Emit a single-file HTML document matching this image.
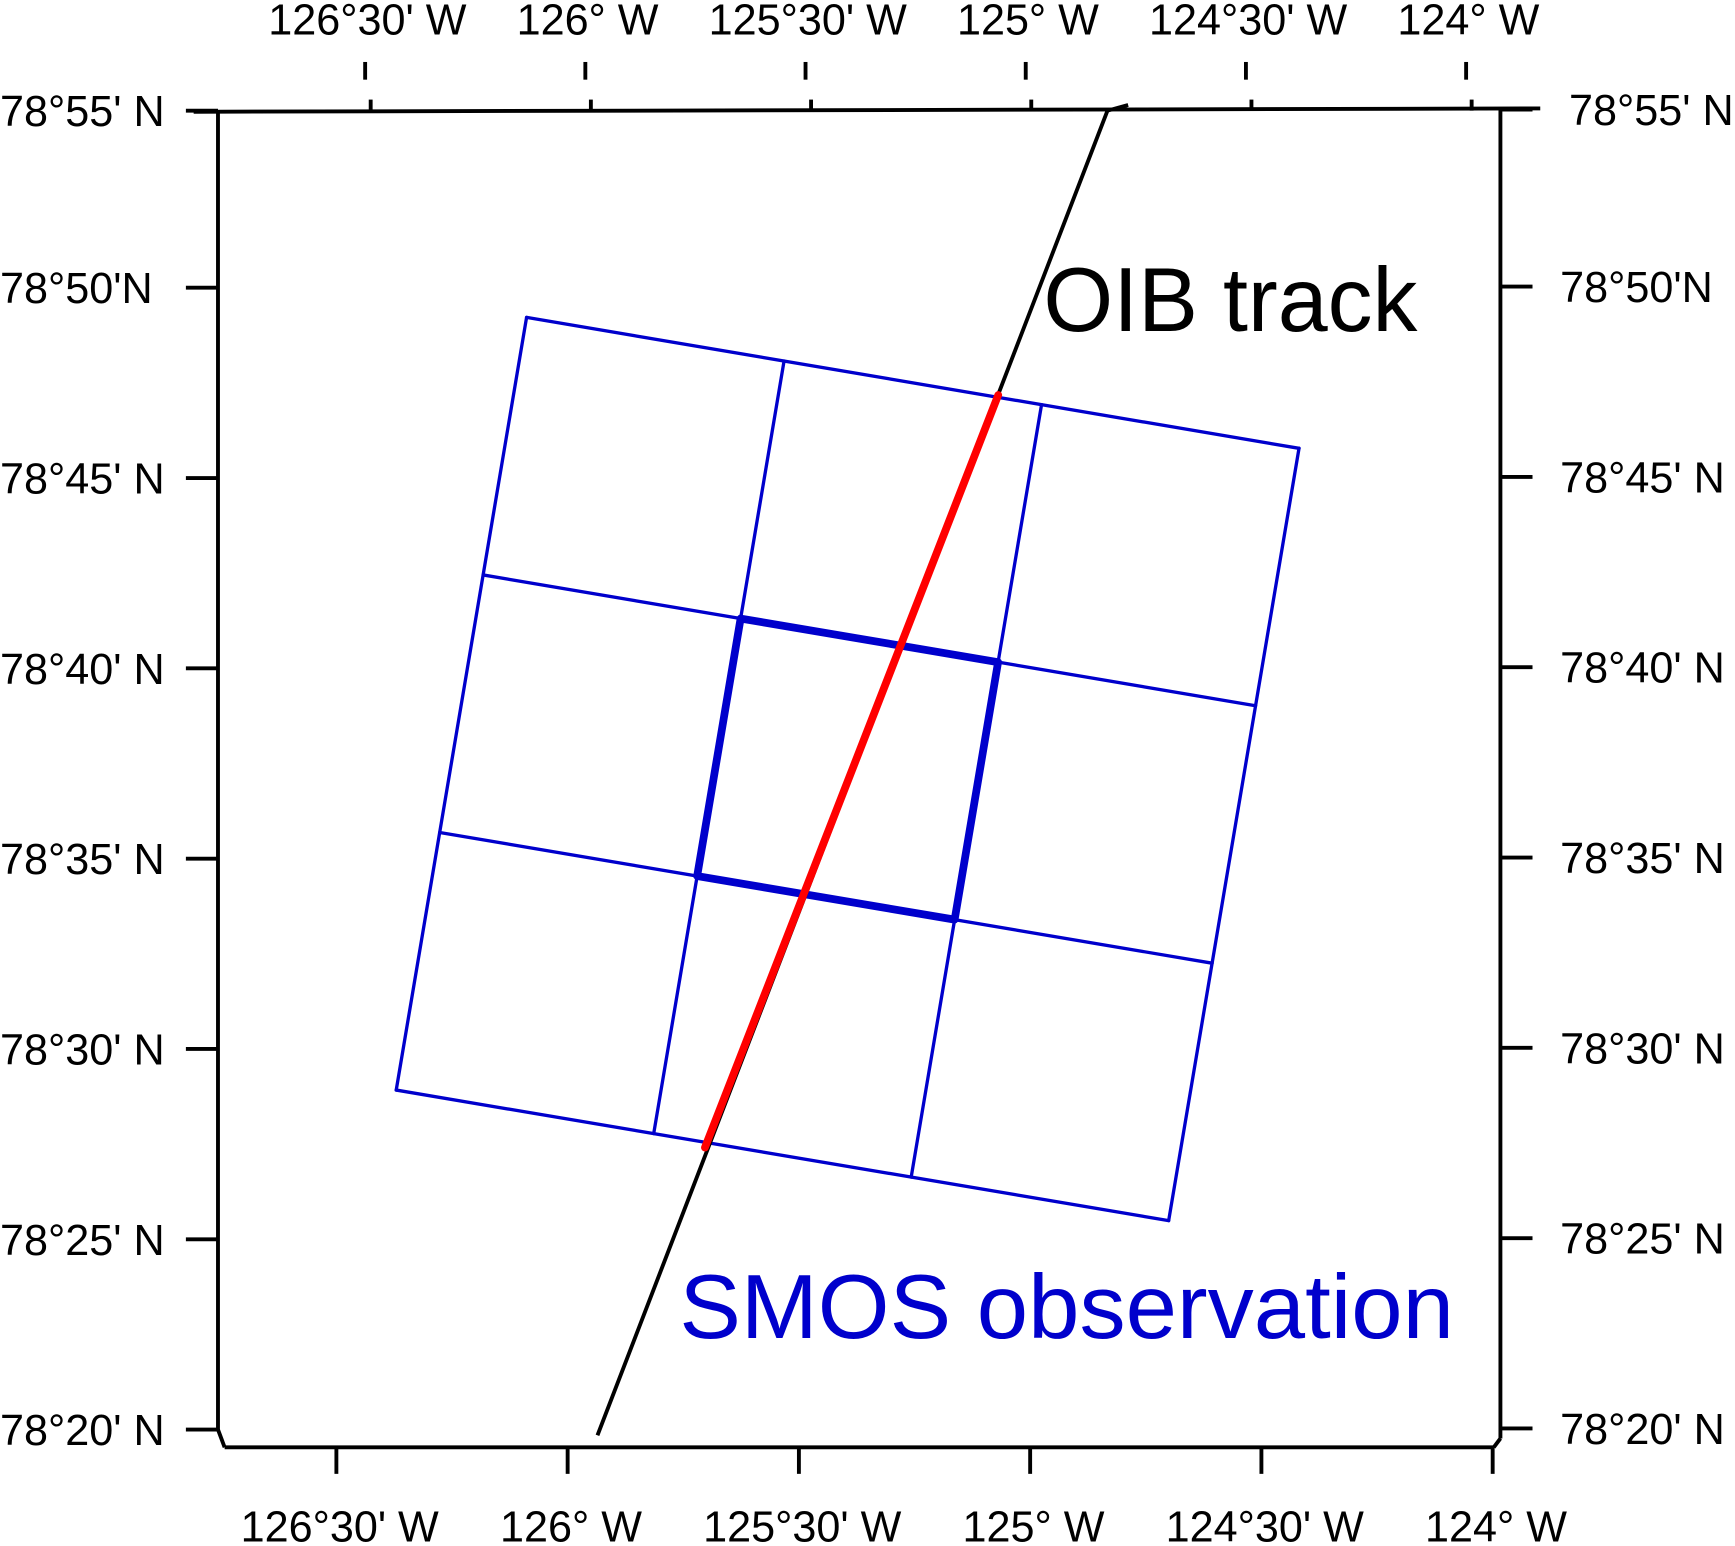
<!DOCTYPE html>
<html><head><meta charset="utf-8"><style>html,body{margin:0;padding:0;background:#fff}svg{display:block}text{font-family:"Liberation Sans",sans-serif}</style></head>
<body>
<svg id="chart" width="1735" height="1546" viewBox="0 0 1568 1397.2" xmlns="http://www.w3.org/2000/svg">
<g id="frame" stroke="#000" stroke-width="3.5" fill="none">
<line x1="175" y1="101" x2="1392" y2="98"/>
<line x1="197" y1="100" x2="197" y2="1292"/>
<line x1="1356" y1="97" x2="1356" y2="1300"/>
<line x1="203" y1="1308" x2="1350" y2="1308"/>
<line x1="197" y1="1292" x2="203" y2="1308"/>
<line x1="1350" y1="1308" x2="1356" y2="1300"/>
</g>
<g id="ticks"></g>
<g id="labels" font-size="39"></g>
<g id="grid"></g>
<g id="track"></g>
<text x="943" y="299" font-size="82" textLength="338" lengthAdjust="spacingAndGlyphs">OIB track</text>
<text x="614" y="1209" font-size="82" fill="#0000CC" textLength="700" lengthAdjust="spacingAndGlyphs">SMOS observation</text>
</svg>
<script>
// Lat/lon data (lat in minutes past 78°N, lon in degrees E)
const latTicks = [55, 50, 45, 40, 35, 30, 25, 20];
const leftLatLabels = ["78°55' N","78°50'N","78°45' N","78°40' N","78°35' N","78°30' N","78°25' N","78°20' N"];
const rightLatLabels = ["78°55' N","78°50'N","78°45' N","78°40' N","78°35' N","78°30' N","78°25' N","78°20' N"];
const lonTicks = [-126.5, -126, -125.5, -125, -124.5, -124];
const lonLabels = ["126°30' W","126° W","125°30' W","125° W","124°30' W","124° W"];
const gridCornerLon = [-126.146, -124.392, -124.688, -126.442]; // TL, TR, BR, BL
const gridCornerLat = [49.22, 45.78, 25.49, 28.92];
const trackLon = [-125.985, -124.827, -124.78];
const trackLat = [19.85, 54.65, 54.80];
const redLon = [-125.741, -125.075];
const redLat = [27.41, 47.18];

const NS = "http://www.w3.org/2000/svg";
function xScale(lon){ return 733 + (lon + 125.5) * 398; }
function yScale(lat){ return Math.max(100 - (lat - 54.65) * 34.4, 1292 - (lat - 20) * 34.4); }
function yTick(lat){ return Math.max(100, 1292 - (lat - 20) * 34.4); }
function xBottom(lon){ return 722 + (lon + 125.5) * 418; }
function mk(tag, attrs, parent){ const e = document.createElementNS(NS, tag); for (const k in attrs) e.setAttribute(k, attrs[k]); parent.appendChild(e); return e; }

const ticks = document.getElementById('ticks');
const labels = document.getElementById('labels');
latTicks.forEach((lat, i) => {
  const y = yTick(lat);
  const a = mk('line', {x1:168, y1:y, x2:197, y2:y, stroke:'#000','stroke-width':3.5}, ticks);
  
  
  const b = mk('line', {x1:1356, y1:y-1, x2:1385, y2:y-1, stroke:'#000','stroke-width':3.5}, ticks);
  
  
  const t = mk('text', {x:0, y:y+14}, labels);
  t.textContent = leftLatLabels[i];
  
  
  const r = mk('text', {x: i===0 ? 1418 : 1410, y:y+13}, labels);
  r.textContent = rightLatLabels[i];
  
  
});
lonTicks.forEach((lon, i) => {
  const x = xScale(lon);
  const a = mk('line', {x1:x, y1:100, x2:x, y2:90, stroke:'#000','stroke-width':3.5}, ticks);
  
  
  const d = mk('line', {x1:x-5, y1:56, x2:x-5, y2:72, stroke:'#000','stroke-width':3.5}, ticks);
  
  
  const xb = xBottom(lon);
  const b = mk('line', {x1:xb, y1:1308, x2:xb, y2:1332, stroke:'#000','stroke-width':3.5}, ticks);
  
  
  const t = mk('text', {x:x-3, y:31, 'text-anchor':'middle'}, labels);
  t.textContent = lonLabels[i];
  
  
  const bt = mk('text', {x:xb+3, y:1393, 'text-anchor':'middle'}, labels);
  bt.textContent = lonLabels[i];
  
  
});

// SMOS grid via bilinear interpolation of corners
const grid = document.getElementById('grid');
const C = gridCornerLon.map((lon, i) => [xScale(lon), yScale(gridCornerLat[i])]);
function P(u, v){
  const top = [C[0][0] + (C[1][0]-C[0][0])*u, C[0][1] + (C[1][1]-C[0][1])*u];
  const bot = [C[3][0] + (C[2][0]-C[3][0])*u, C[3][1] + (C[2][1]-C[3][1])*u];
  return [top[0] + (bot[0]-top[0])*v, top[1] + (bot[1]-top[1])*v];
}
for (let k = 0; k <= 3; k++) {
  const a = P(0, k/3), b = P(1, k/3);
  const h = mk('line', {x1:a[0], y1:a[1], x2:b[0], y2:b[1], stroke:'#0000CC','stroke-width':3,'stroke-linecap':'round'}, grid);
  
  
  const c = P(k/3, 0), d = P(k/3, 1);
  const v = mk('line', {x1:c[0], y1:c[1], x2:d[0], y2:d[1], stroke:'#0000CC','stroke-width':3,'stroke-linecap':'round'}, grid);
  
  
}
const cc = [P(1/3,1/3), P(2/3,1/3), P(2/3,2/3), P(1/3,2/3)];
const cell = mk('polygon', {points: cc.map(p => p.join(',')).join(' '), fill:'none', stroke:'#0000CC','stroke-width':7,'stroke-linejoin':'round'}, grid);



// OIB track
const track = document.getElementById('track');
const tl = mk('polyline', {points: trackLon.map((lon,i) => xScale(lon)+','+yScale(trackLat[i])).join(' '), fill:'none', stroke:'#000','stroke-width':3.5}, track);


const rl = mk('polyline', {points: redLon.map((lon,i) => xScale(lon)+','+yScale(redLat[i])).join(' '), fill:'none', stroke:'#FF0000','stroke-width':7,'stroke-linecap':'round'}, track);


</script>
</body></html>
